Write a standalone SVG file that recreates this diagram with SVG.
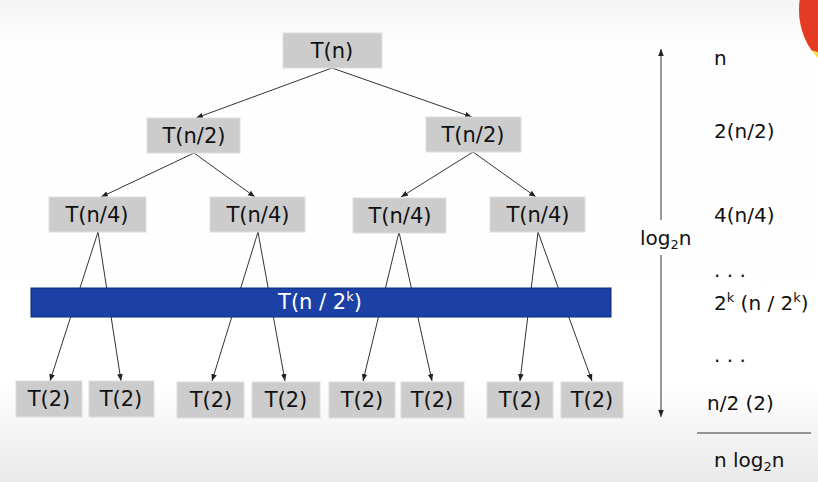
<svg xmlns="http://www.w3.org/2000/svg" width="818" height="482" viewBox="0 0 818 482">
<defs>
<linearGradient id="bg" x1="0" y1="0" x2="0" y2="1">
<stop offset="0" stop-color="#f4f4f4"/>
<stop offset="0.1" stop-color="#fefefe"/>
<stop offset="0.8" stop-color="#ffffff"/>
<stop offset="1" stop-color="#e9e9e9"/>
</linearGradient>
<marker id="ah" viewBox="0 0 10 10" refX="10" refY="5" markerWidth="7" markerHeight="7" markerUnits="userSpaceOnUse" orient="auto">
<path d="M0,1 L10,5 L0,9 Z" fill="#222"/>
</marker>
<clipPath id="topc"><polygon points="780,0 818,0 818,52 780,42"/></clipPath>
</defs>
<style>
.box{fill:#cccccc;stroke:#dedede;stroke-width:1}
.t{font-family:"DejaVu Sans",sans-serif;font-size:21px;fill:#111;text-anchor:middle}
.r{font-family:"DejaVu Sans",sans-serif;font-size:20px;fill:#111}
.c{stroke:#333;stroke-width:1;fill:none}
.ca{stroke:#333;stroke-width:1;fill:none;marker-end:url(#ah)}
</style>
<rect width="818" height="482" fill="url(#bg)"/>
<circle cx="870" cy="10" r="71" fill="#f3e04b"/>
<circle cx="870" cy="10" r="71" fill="#e53a24" clip-path="url(#topc)"/>

<g id="connectors">
<line class="ca" x1="332" y1="68" x2="196" y2="118"/>
<line class="ca" x1="332" y1="68" x2="472" y2="117"/>
<line class="ca" x1="194" y1="153" x2="101" y2="197"/>
<line class="ca" x1="194" y1="153" x2="255" y2="197"/>
<line class="ca" x1="473" y1="152" x2="401" y2="197"/>
<line class="ca" x1="473" y1="152" x2="536" y2="197"/>
<line class="ca" x1="98" y1="232" x2="50" y2="381"/>
<line class="ca" x1="98" y1="232" x2="121" y2="381"/>
<line class="ca" x1="258" y1="232" x2="212" y2="381"/>
<line class="ca" x1="258" y1="232" x2="285" y2="381"/>
<line class="ca" x1="399" y1="232" x2="363" y2="381"/>
<line class="ca" x1="399" y1="232" x2="432" y2="381"/>
<line class="ca" x1="538" y1="232" x2="520" y2="381"/>
<line class="ca" x1="538" y1="232" x2="592" y2="381"/>
</g>

<g id="n-root"><rect class="box" x="283" y="33" width="99" height="35"/><text class="t" x="332" y="58">T(n)</text></g>
<g id="n-l2a"><rect class="box" x="147" y="118" width="93" height="35"/><text class="t" x="194" y="143">T(n/2)</text></g>
<g id="n-l2b"><rect class="box" x="426" y="117" width="95" height="35"/><text class="t" x="473" y="142">T(n/2)</text></g>
<g id="n-l4a"><rect class="box" x="49" y="197" width="97" height="35"/><text class="t" x="97" y="222">T(n/4)</text></g>
<g id="n-l4b"><rect class="box" x="210" y="197" width="95" height="35"/><text class="t" x="258" y="222">T(n/4)</text></g>
<g id="n-l4c"><rect class="box" x="353" y="198" width="93" height="35"/><text class="t" x="400" y="223">T(n/4)</text></g>
<g id="n-l4d"><rect class="box" x="490" y="197" width="95" height="35"/><text class="t" x="538" y="222">T(n/4)</text></g>

<g id="n-bar"><rect x="31" y="288" width="580" height="29" fill="#1b40a6" stroke="#0d2a78" stroke-width="1"/><text class="t" x="320" y="309" style="fill:#ffffff">T(n / 2<tspan font-size="13" dy="-8">k</tspan><tspan dy="8">)</tspan></text></g>

<g id="n-b1"><rect class="box" x="16" y="381" width="66" height="36"/><text class="t" x="49" y="406">T(2)</text></g>
<g id="n-b2"><rect class="box" x="89" y="381" width="65" height="36"/><text class="t" x="121" y="406">T(2)</text></g>
<g id="n-b3"><rect class="box" x="177" y="382" width="67" height="36"/><text class="t" x="211" y="407">T(2)</text></g>
<g id="n-b4"><rect class="box" x="252" y="382" width="68" height="36"/><text class="t" x="286" y="407">T(2)</text></g>
<g id="n-b5"><rect class="box" x="329" y="382" width="66" height="36"/><text class="t" x="362" y="407">T(2)</text></g>
<g id="n-b6"><rect class="box" x="401" y="382" width="63" height="36"/><text class="t" x="432" y="407">T(2)</text></g>
<g id="n-b7"><rect class="box" x="487" y="382" width="66" height="36"/><text class="t" x="520" y="407">T(2)</text></g>
<g id="n-b8"><rect class="box" x="561" y="382" width="62" height="36"/><text class="t" x="592" y="407">T(2)</text></g>

<g id="n-axis">
<line class="ca" x1="661" y1="220" x2="661" y2="49"/>
<line class="ca" x1="661" y1="255" x2="661" y2="417"/>
<text class="r" x="640" y="245">log<tspan font-size="13" dy="4">2</tspan><tspan dy="-4">n</tspan></text>
</g>

<g id="n-sums">
<text class="r" x="714" y="65">n</text>
<text class="r" x="714" y="138">2(n/2)</text>
<text class="r" x="714" y="222">4(n/4)</text>
<text class="r" x="714" y="277">. . .</text>
<text class="r" x="714" y="310">2<tspan font-size="13" dy="-8">k</tspan><tspan dy="8"> (n / 2</tspan><tspan font-size="13" dy="-8">k</tspan><tspan dy="8">)</tspan></text>
<text class="r" x="714" y="362">. . .</text>
<text class="r" x="707" y="410">n/2 (2)</text>
<line class="c" x1="697" y1="433" x2="811" y2="433"/>
<text class="r" x="714" y="467">n log<tspan font-size="13" dy="4">2</tspan><tspan dy="-4">n</tspan></text>
</g>
</svg>
